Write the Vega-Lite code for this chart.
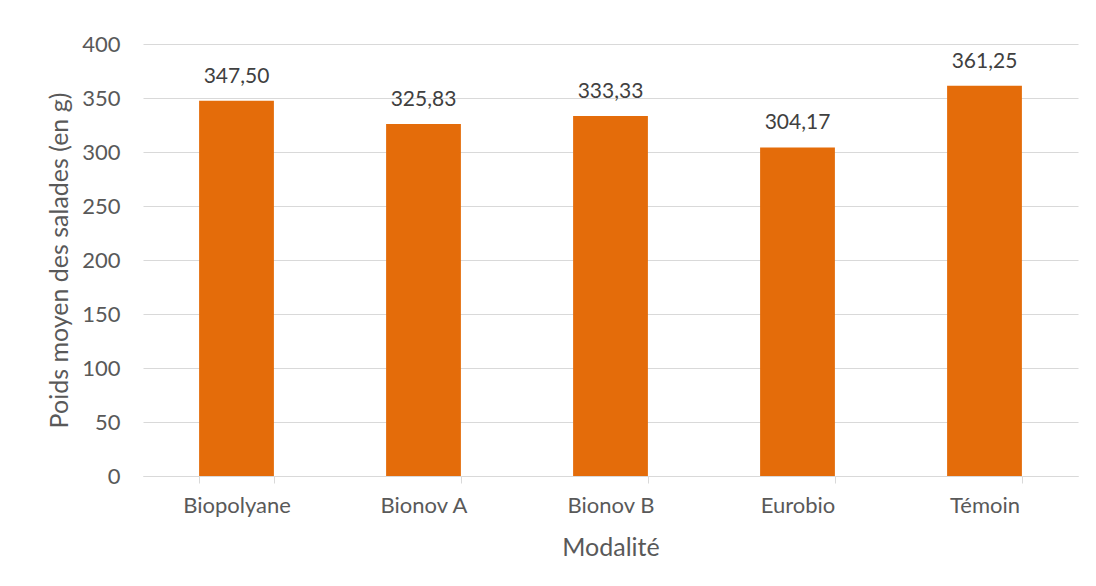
{
  "$schema": "https://vega.github.io/schema/vega-lite/v6.json",
  "width": 935,
  "height": 432,
  "autosize": {"type": "none"},
  "padding": {"left": 143, "top": 44, "right": 18, "bottom": 110},
  "background": "white",
  "config": {
    "view": {"stroke": null},
    "locale": {"number": {"decimal": ",", "thousands": " ", "grouping": [3], "currency": ["", " €"]}},
    "font": "Lato",
    "axis": {
      "labelColor": "#595959",
      "titleColor": "#595959",
      "labelFont": "Lato",
      "titleFont": "Lato",
      "labelFontSize": 22,
      "titleFontSize": 25,
      "titleFontWeight": "normal"
    }
  },
  "data": {
    "values": [
      {"modalite": "Biopolyane", "poids": 347.50},
      {"modalite": "Bionov A", "poids": 325.83},
      {"modalite": "Bionov B", "poids": 333.33},
      {"modalite": "Eurobio", "poids": 304.17},
      {"modalite": "Témoin", "poids": 361.25}
    ]
  },
  "encoding": {
    "x": {
      "field": "modalite",
      "type": "nominal",
      "sort": null,
      "title": "Modalité",
      "scale": {"paddingInner": 0.6, "paddingOuter": 0.3},
      "axis": {
        "labelAngle": 0,
        "tickBand": "extent",
        "domainColor": "#d9d9d9",
        "tickColor": "#d9d9d9",
        "tickSize": 7,
        "labelPadding": 12,
        "titlePadding": 19
      }
    },
    "y": {
      "field": "poids",
      "type": "quantitative",
      "title": "Poids moyen des salades (en g)",
      "scale": {"domain": [0, 400]},
      "axis": {
        "values": [0, 50, 100, 150, 200, 250, 300, 350, 400],
        "domain": false,
        "ticks": false,
        "gridColor": "#d9d9d9",
        "labelPadding": 23,
        "titlePadding": 9
      }
    }
  },
  "layer": [
    {"mark": {"type": "bar", "color": "#e46c0a"}},
    {
      "mark": {"type": "text", "baseline": "bottom", "dy": -14, "fontSize": 21, "color": "#404040", "font": "Lato"},
      "encoding": {"text": {"field": "poids", "type": "quantitative", "format": ".2f"}}
    }
  ]
}
